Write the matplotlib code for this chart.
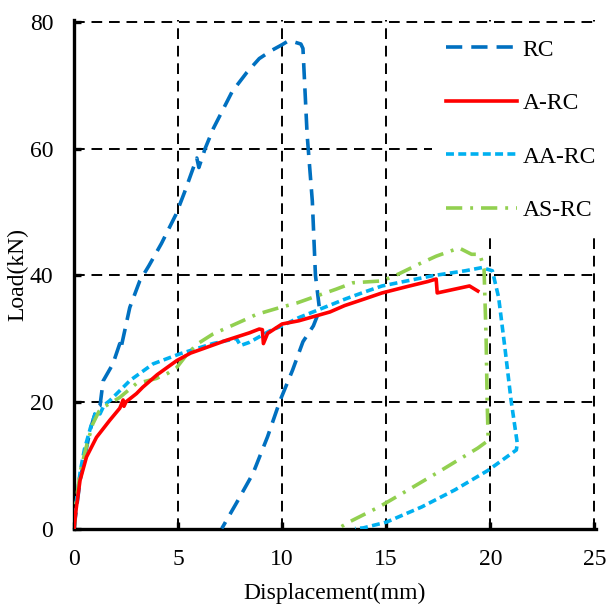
import matplotlib
matplotlib.use("Agg")
import matplotlib.pyplot as plt

plt.rcParams['font.family'] = ['Liberation Serif', 'DejaVu Serif']

xticks = [0, 5, 10, 15, 20, 25]
yticks = [0, 20, 40, 60, 80]

rc_x = [0, 0.29, 0.77, 1.1, 1.25, 1.4, 1.87, 2.2, 2.25, 2.68, 3.16, 3.6, 4.2, 4.9, 5.3, 5.9, 6.0, 6.3, 6.7, 7.6, 8.3, 8.9, 9.5, 10.0, 10.3, 10.6, 10.9, 11.0, 11.2, 11.45, 11.6, 11.8, 11.5, 11.0, 10.5, 9.9, 9.3, 8.6, 7.8, 7.1]
rc_y = [0, 7.6, 15.5, 19.1, 19.4, 23.3, 26, 29.2, 28.4, 34.9, 39.1, 41.5, 45, 49.6, 53, 58.5, 57, 60, 63.2, 69, 72, 74.2, 75.5, 76.4, 77, 76.8, 76.5, 75.8, 62.2, 51.7, 40.0, 34.5, 32.0, 29.5, 25.0, 20.2, 14.5, 8.7, 4.0, 0]

arc_x = [0, 0.1, 0.29, 0.6, 1.08, 1.72, 2.2, 2.36, 2.4, 2.5, 3.0, 3.3, 4.0, 4.93, 5.6, 6.2, 7.3, 8.43, 8.9, 9.05, 9.1, 9.3, 10.0, 10.8, 12.3, 13.0, 14.0, 14.8, 16.0, 17.0, 17.4, 17.45, 18.3, 19.0, 19.4]
arc_y = [0, 3, 7.6, 11.3, 14.4, 17.1, 19.0, 20.3, 19.3, 20.0, 21.3, 22.3, 24.3, 26.5, 27.7, 28.4, 29.7, 30.9, 31.5, 31.4, 29.2, 30.8, 32.3, 32.8, 34.2, 35.2, 36.3, 37.2, 38.2, 39.0, 39.4, 37.2, 37.8, 38.3, 37.5]

aarc_x = [0, 0.1, 0.3, 0.5, 0.8, 1.05, 1.25, 1.45, 1.72, 2.7, 3.8, 5.1, 6.67, 7.8, 8.0, 8.43, 9.4, 10.0, 10.8, 12.4, 13.0, 14.0, 14.8, 16.0, 17.2, 18.0, 18.8, 19.6, 20.1, 20.4, 20.7, 21.0, 21.3, 21.25, 19.9, 18.3, 16.7, 15.0, 13.9, 13.5]
aarc_y = [0, 4, 9, 12.5, 16, 18.4, 18.1, 19.5, 20.2, 23.4, 26.0, 27.6, 29.2, 30.0, 28.9, 29.4, 31.2, 32.0, 33.3, 35.4, 36.2, 37.4, 38.3, 39.1, 39.9, 40.3, 40.7, 41.2, 40.7, 36.5, 28.6, 20.2, 13.4, 12.4, 9.2, 6.1, 3.4, 1.0, 0.1, 0]

asrc_x = [0, 0.1, 0.3, 0.6, 0.9, 1.2, 1.39, 2.2, 3.0, 3.5, 3.96, 4.5, 4.93, 5.5, 6.0, 6.67, 8.1, 8.76, 9.9, 10.7, 11.3, 12.6, 13.4, 14.8, 15.6, 16.6, 17.4, 18.5, 19.1, 19.5, 19.7, 19.8, 19.85, 19.9, 19.4, 17.5, 15.8, 14.65, 13.2, 12.9, 12.7]
asrc_y = [0, 4, 9, 13, 16.5, 18.5, 19.1, 20.7, 22.9, 23.3, 23.7, 24.5, 25.4, 27.8, 29.3, 30.7, 32.8, 33.8, 34.9, 35.6, 36.3, 37.8, 38.8, 39.1, 40.2, 41.8, 43.0, 44.3, 43.3, 43.3, 41.0, 30.0, 20.0, 13.9, 12.7, 8.9, 5.6, 3.4, 1.0, 0.4, 0]

labels = ['RC', 'A-RC', 'AA-RC', 'AS-RC']

fig = plt.figure(figsize=(6.09, 6.05), dpi=100)
ax = fig.add_axes([0.1215, 0.1264, 0.8572, 0.8406])

lw = 2.6
ax.plot(rc_x, rc_y, color='#0070C0', lw=lw, dashes=(4.5, 2.5), label=labels[0], zorder=3)
ax.plot(arc_x, arc_y, color='#FF0000', lw=lw, label=labels[1], zorder=4)
ax.plot(aarc_x, aarc_y, color='#00B0F0', lw=lw, dashes=(2.2, 1.2), label=labels[2], zorder=3)
ax.plot(asrc_x, asrc_y, color='#92D050', lw=lw, dashes=(4.5, 2.2, 0.8, 2.2), label=labels[3], zorder=3)

ax.set_xlim(0, 25.08)
ax.set_ylim(0, 80.3)
ax.set_xticks(xticks)
ax.set_yticks(yticks)
ax.grid(True, color='black', lw=1.4, dashes=(5.5, 3.5))
ax.set_axisbelow(True)
for s in ['top', 'right']:
    ax.spines[s].set_visible(False)
for s in ['left', 'bottom']:
    ax.spines[s].set_linewidth(2.4)
ax.tick_params(direction='in', length=5, width=2.4, labelsize=17)
ax.tick_params(axis='x', pad=15)
ax.tick_params(axis='y', pad=15)
ax.set_xlabel('Displacement(mm)', fontsize=17, labelpad=9)
ax.set_ylabel('Load(kN)', fontsize=17, labelpad=1)

leg = ax.legend(loc='upper right', bbox_to_anchor=(1.027, 0.99), frameon=True,
                facecolor='white', edgecolor='none', framealpha=1.0, fancybox=False,
                fontsize=17, handlelength=3.0, handletextpad=0.25, labelspacing=1.35,
                borderpad=0.6, borderaxespad=0.0)
leg.set_zorder(5)

fig.savefig('out.png', dpi=100)
